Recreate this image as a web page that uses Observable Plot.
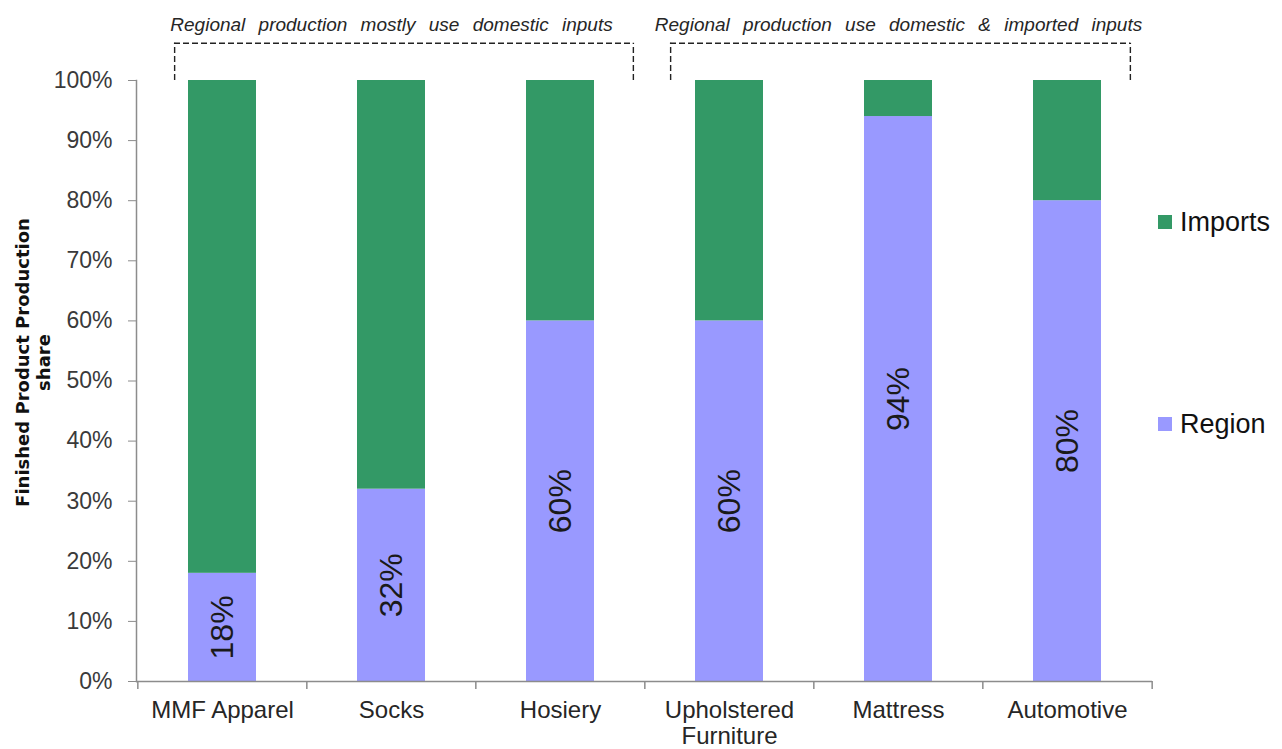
<!DOCTYPE html>
<html>
<head>
<meta charset="utf-8">
<script src="https://cdn.jsdelivr.net/npm/d3@7"></script>
<script src="https://cdn.jsdelivr.net/npm/@observablehq/plot@0.6"></script>
<style>
  body { margin: 0; background: #fff; }
  #chart { position: relative; width: 1282px; height: 749px; font-family: "Liberation Sans", Arial, sans-serif; }
  .legend { position: absolute; left: 1158px; font-size: 27px; color: #111; display: flex; align-items: center; height: 30px; }
  .legend .swatch { width: 14px; height: 14px; margin-right: 8px; }
</style>
</head>
<body>
<div id="chart"></div>
<script>
// Finished product production share by input origin
const categories = ["MMF Apparel", "Socks", "Hosiery", "Upholstered Furniture", "Mattress", "Automotive"];
const regionShare = [18, 32, 60, 60, 94, 80];
const importShare = [82, 68, 40, 40, 6, 20];
const seriesNames = ["Region", "Imports"];
const seriesColors = ["#9999ff", "#339966"];
const yTicks = [0, 10, 20, 30, 40, 50, 60, 70, 80, 90, 100];
const yTitle = "Finished Product Production\nshare";
const groupLabels = ["Regional production mostly use domestic inputs", "Regional production use domestic & imported inputs"];
const groupFrom = ["MMF Apparel", "Upholstered Furniture"];
const groupMid = ["Socks", "Mattress"];
const groupTo = ["Hosiery", "Automotive"];
const legendOrder = ["Imports", "Region"];

// Stacked rows: region at the bottom, imports on top
const rows = [];
categories.forEach((c, i) => rows.push({category: c, series: "Region", share: regionShare[i]}));
categories.forEach((c, i) => rows.push({category: c, series: "Imports", share: importShare[i]}));
const regionRows = categories.map((c, i) => ({category: c, share: regionShare[i]}));

// Layout
const W = 1282, H = 749;
const margin = {top: 80, right: 130, bottom: 68, left: 136};
const step = (W - margin.left - margin.right) / categories.length;
const bandwidth = step * 0.4;
const bracketTop = 106.2;   // bracket line height, in share units above 100%
const labelBase = 108.2;
const overhangL = [14, 25];
const overhangR = [39, 29];
const axisGray = "#8c8c8c";

const bracketMarks = [];
groupLabels.forEach((label, g) => {
  const dash = {stroke: "#222", strokeWidth: 1.4, strokeDasharray: "6,3"};
  bracketMarks.push(
    Plot.ruleY([bracketTop], {x1: () => groupFrom[g], x2: () => groupTo[g], insetLeft: -overhangL[g], insetRight: -overhangR[g], ...dash}),
    Plot.ruleX([groupFrom[g]], {y1: 100, y2: bracketTop, dx: -(bandwidth / 2 + overhangL[g]), ...dash}),
    Plot.ruleX([groupTo[g]], {y1: 100, y2: bracketTop, dx: bandwidth / 2 + overhangR[g], ...dash}),
    Plot.text([label], {x: () => groupMid[g], y: labelBase, text: d => d, lineAnchor: "bottom", fontSize: 19, fontStyle: "italic", fill: "#262626"})
  );
});

const chart = Plot.plot({
  width: W,
  height: H,
  marginTop: margin.top,
  marginRight: margin.right,
  marginBottom: margin.bottom,
  marginLeft: margin.left,
  style: {fontFamily: "'Liberation Sans', Arial, sans-serif", background: "#fff", overflow: "visible"},
  x: {domain: categories, paddingInner: 0.6, paddingOuter: 0.3, axis: null},
  y: {domain: [0, 100], axis: null},
  color: {domain: seriesNames, range: seriesColors},
  marks: [
    Plot.barY(rows, {x: "category", y: "share", fill: "series"}),
    Plot.text(regionRows, {x: "category", y: d => d.share / 2, text: d => d.share + "%", rotate: -90, fontSize: 32, fill: "#1a1a1a"}),
    Plot.ruleY([0], {stroke: axisGray, strokeWidth: 1.5}),
    Plot.frame({anchor: "left", stroke: axisGray, strokeWidth: 1.5}),
    Plot.axisY({ticks: yTicks, tickFormat: d => d + "%", tickSize: 8, tickPadding: 16, fontSize: 23, stroke: axisGray, fill: "#3a3a3a", label: null}),
    Plot.axisX({tickSize: 0, tickPadding: 18, fontSize: 24, lineWidth: 7, lineHeight: 1.08, fill: "#262626", label: null}),
    // category boundary ticks on the x axis
    Plot.ruleX(categories, {y1: 0, y2: 0, insetBottom: -8, dx: -step / 2, stroke: axisGray, strokeWidth: 1.5}),
    Plot.ruleX([categories[categories.length - 1]], {y1: 0, y2: 0, insetBottom: -8, dx: step / 2, stroke: axisGray, strokeWidth: 1.5}),
    ...bracketMarks,
    Plot.text([yTitle], {frameAnchor: "left", text: d => d, rotate: -90, textAnchor: "middle", dx: -103.5, dy: -18.5, fontSize: 18, fontWeight: "bold", fontFamily: "'DejaVu Sans', sans-serif", lineHeight: 1.15, fill: "#111"})
  ]
});

// wider word gaps in the group captions
d3.select(chart).selectAll("text")
  .filter(function () { return groupLabels.includes(this.textContent); })
  .style("word-spacing", "8px");

const root = document.getElementById("chart");
root.appendChild(chart);

// Legend at the right of the plot
const legendTop = {Imports: 207, Region: 409};
legendOrder.forEach(name => {
  const item = document.createElement("div");
  item.className = "legend";
  item.style.top = legendTop[name] + "px";
  const sw = document.createElement("span");
  sw.className = "swatch";
  sw.style.background = seriesColors[seriesNames.indexOf(name)];
  const label = document.createElement("span");
  label.textContent = name;
  item.appendChild(sw);
  item.appendChild(label);
  root.appendChild(item);
});
</script>
</body>
</html>
